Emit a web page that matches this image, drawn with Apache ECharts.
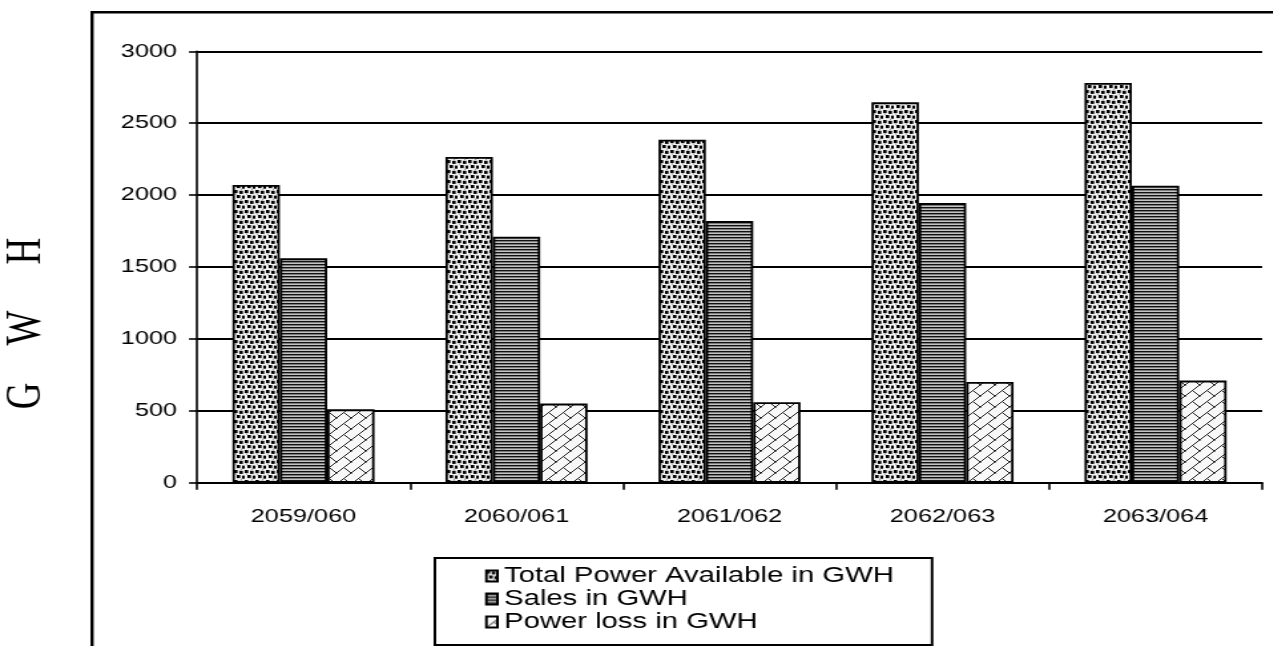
<!DOCTYPE html>
<html>
<head>
<meta charset="utf-8">
<script src="https://cdn.jsdelivr.net/npm/echarts@6/dist/echarts.min.js"></script>
<style>
  html, body { margin: 0; padding: 0; background: #fff; overflow: hidden; }
  #wrap { width: 1273px; height: 646px; overflow: hidden; position: relative; }
  /* the chart is drawn narrow and widened horizontally */
  #chart { width: 957px; height: 646px; transform: scaleX(1.33); transform-origin: 0 0; }
</style>
</head>
<body>
<div id="wrap"><div id="chart"></div></div>
<script>
// fiscal years (Nepali calendar)
const years = ['2059/060', '2060/061', '2061/062', '2062/063', '2063/064'];
// energy figures in GWH
const totalPower = [2070, 2265, 2385, 2645, 2780];
const sales = [1560, 1710, 1820, 1945, 2065];
const powerLoss = [510, 550, 560, 700, 710];
const seriesNames = ['Total Power Available in GWH', 'Sales in GWH', 'Power loss in GWH'];
const axisTitle = 'G    W     H';

function makeTile(w, h, draw) {
  const c = document.createElement('canvas');
  c.width = w; c.height = h;
  const g = c.getContext('2d');
  draw(g, w, h);
  return c;
}

// speckled fill
const dotTile = makeTile(8, 10, (g, w, h) => {
  g.fillStyle = '#f2f2f2'; g.fillRect(0, 0, w, h);
  g.fillStyle = '#000';
  [[0, 0], [4, 0.8], [2, 5], [6, 5.6]].forEach(([x, y]) => g.fillRect(x, y, 2.6, 3.1));
  g.fillStyle = '#888';
  [[1, 3.6], [5, 8.8]].forEach(([x, y]) => g.fillRect(x, y, 1, 1));
});

// horizontal stripes
const stripeTile = makeTile(4, 3, (g, w, h) => {
  g.fillStyle = '#c4c4c4'; g.fillRect(0, 0, w, h);
  g.fillStyle = '#111'; g.fillRect(0, 0, w, 1.4);
});

// diagonal brick
const brickTile = makeTile(11, 11, (g, w, h) => {
  g.fillStyle = '#f8f8f8'; g.fillRect(0, 0, w, h);
  g.strokeStyle = '#222'; g.lineWidth = 1;
  g.beginPath();
  g.moveTo(-1, h + 1); g.lineTo(w + 1, -1);
  g.moveTo(w / 2, h / 2); g.lineTo(w + 1, h + 1);
  g.moveTo(-1, -1); g.lineTo(0.5, 0.5);
  g.stroke();
});

function pattern(img) { return { image: img, repeat: 'repeat' }; }

const chart = echarts.init(document.getElementById('chart'), null, { renderer: 'canvas' });

const barStyle = (img) => ({ color: pattern(img), borderColor: '#000', borderWidth: 1.8 });

const option = {
  animation: false,
  backgroundColor: '#fff',
  textStyle: { fontFamily: 'Liberation Sans, Arial, sans-serif', color: '#000' },
  grid: { left: 148.1, top: 51.3, width: 800.8, height: 431.4, containLabel: false },
  xAxis: {
    type: 'category',
    data: years,
    axisLine: { lineStyle: { color: '#000', width: 2 } },
    axisTick: { show: true, length: 7, inside: false, alignWithLabel: false, lineStyle: { color: '#000', width: 1.6 } },
    axisLabel: { color: '#000', fontSize: 19, margin: 25, fontFamily: 'Liberation Sans, Arial, sans-serif' },
    splitLine: { show: false }
  },
  yAxis: {
    type: 'value',
    min: 0, max: 3000, interval: 500,
    axisLine: { show: true, lineStyle: { color: '#000', width: 1.6 } },
    axisTick: { show: true, length: 6, lineStyle: { color: '#000', width: 1.6 } },
    axisLabel: { color: '#000', fontSize: 19, margin: 15, fontFamily: 'Liberation Sans, Arial, sans-serif',
                 formatter: (v) => String(v) },
    splitLine: { show: true, lineStyle: { color: '#000', width: 2 } }
  },
  legend: {
    orient: 'vertical',
    left: 364.7, top: 565,
    padding: 0,
    itemGap: 1,
    itemWidth: 8.3, itemHeight: 11,
    icon: 'rect',
    textStyle: { fontSize: 22, lineHeight: 22, color: '#000', fontFamily: 'Liberation Sans, Arial, sans-serif' },
    data: seriesNames
  },
  series: [
    { name: seriesNames[0], type: 'bar', data: totalPower, barWidth: 35.6, barGap: '0%', itemStyle: barStyle(dotTile) },
    { name: seriesNames[1], type: 'bar', data: sales, barWidth: 35.6, barGap: '0%', itemStyle: barStyle(stripeTile) },
    { name: seriesNames[2], type: 'bar', data: powerLoss, barWidth: 35.6, barGap: '0%', itemStyle: barStyle(brickTile) }
  ],
  graphic: [
    // outer frame (runs off the right and bottom edges)
    { type: 'rect', shape: { x: 69.2, y: 12.3, width: 2000, height: 2000 },
      style: { fill: 'none', stroke: '#000', lineWidth: 2.4 }, z: 0 },
    // legend box
    { type: 'rect', shape: { x: 327, y: 558, width: 373.8, height: 87 },
      style: { fill: 'none', stroke: '#000', lineWidth: 2 }, z: 0 },
    // vertical axis title
    { type: 'text', x: 20.7, y: 323.5, rotation: Math.PI / 2,
      style: { text: axisTitle, font: '37px "Liberation Serif", "Times New Roman", serif', fill: '#000',
               textAlign: 'center', textVerticalAlign: 'middle' } }
  ]
};

chart.setOption(option);
</script>
</body>
</html>
